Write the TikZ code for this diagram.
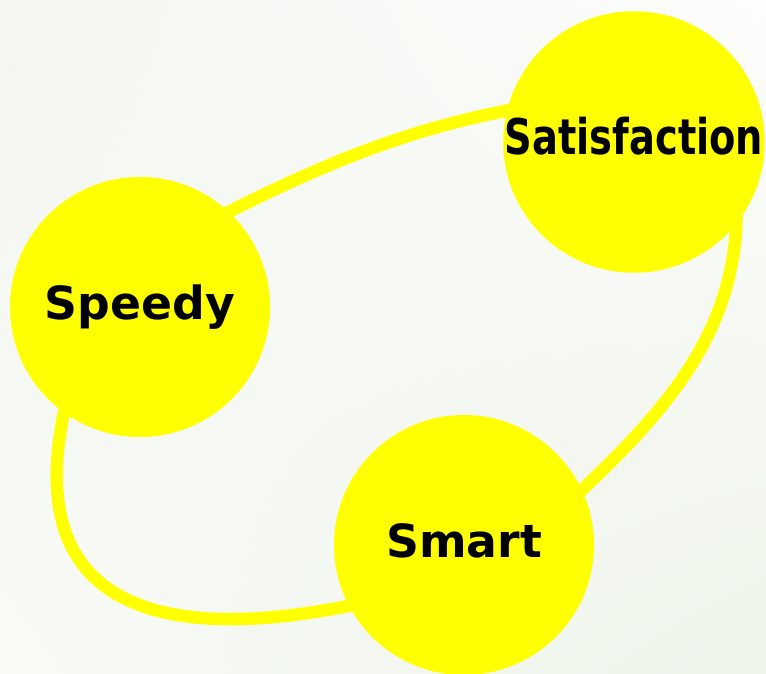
\documentclass[tikz,border=0pt]{standalone}
\usepackage{fontspec}
\usetikzlibrary{shadings}
\newfontfamily\bubblefont{DejaVu Sans}
\definecolor{bubbleyellow}{RGB}{255,255,0}
\definecolor{bgtl}{RGB}{243,246,241}
\definecolor{bgtr}{RGB}{253,253,251}
\definecolor{bgbl}{RGB}{248,250,246}
\definecolor{bgbr}{RGB}{238,244,234}
\pgfdeclarelayer{bg}
\pgfdeclarelayer{ring}
\pgfsetlayers{bg,ring,main}
\begin{document}
\begin{tikzpicture}[
    x=0.03cm, y=-0.03cm,
    bubble/.style={circle, fill=bubbleyellow, inner sep=0pt, minimum size=7.8cm,
        font=\bubblefont\bfseries\fontsize{39}{39}\selectfont,
        text height=28.5pt, text depth=8pt},
    loop/.style={draw=bubbleyellow, line width=10.7pt, shorten <=-20pt, shorten >=-20pt}
]
    % background
    \begin{pgfonlayer}{bg}
    \shade[upper left=bgtl, upper right=bgtr, lower left=bgbl, lower right=bgbr]
        (0,0) rectangle (766,673);
    \end{pgfonlayer}
    \useasboundingbox (0,0) rectangle (766,673);

    \node[bubble] (speedy) at (140,307) {Speedy};
    \node[bubble] (sat) at (634,142) {\fontsize{42}{42}\selectfont\scalebox{0.78}[1]{Satisfaction}};
    \node[bubble] (smart) at (464,545) {Smart};

    % ring behind the bubbles
    \begin{pgfonlayer}{ring}
    \draw[loop] (speedy.47) .. controls (318,166) and (409,127) .. (sat.166);
    \draw[loop] (sat.-38) .. controls (741,332) and (663,415) .. (smart.25);
    \draw[loop] (smart.208) .. controls (155,650) and (12,606) .. (speedy.234);
    \end{pgfonlayer}
\end{tikzpicture}
\end{document}
